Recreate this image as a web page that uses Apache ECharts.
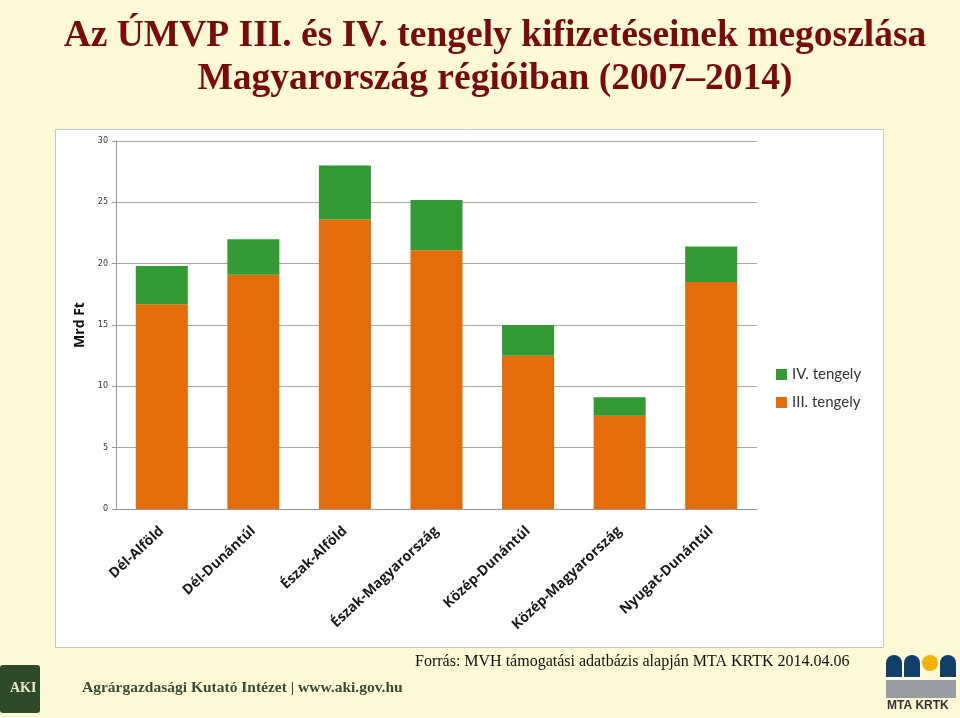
<!DOCTYPE html>
<html>
<head>
<meta charset="utf-8">
<title>ÚMVP III. és IV. tengely</title>
<script src="https://cdn.jsdelivr.net/npm/echarts@6/dist/echarts.min.js"></script>
<style>
  html, body { margin: 0; padding: 0; background: #fefad8; }
  #chart { width: 960px; height: 718px; }
</style>
</head>
<body>
<div id="chart"></div>
<script>
// regions and values (Mrd Ft)
var regions = ['Dél-Alföld', 'Dél-Dunántúl', 'Észak-Alföld', 'Észak-Magyarország',
               'Közép-Dunántúl', 'Közép-Magyarország', 'Nyugat-Dunántúl'];
var tengely3 = [16.7, 19.1, 23.6, 21.1, 12.5, 7.6, 18.5];
var tengely4 = [3.1, 2.9, 4.4, 4.1, 2.5, 1.5, 2.9];
var yTicks = [0, 5, 10, 15, 20, 25, 30];

var myChart = echarts.init(document.getElementById('chart'));

var option = {
    backgroundColor: '#fefad8',
    animation: false,
    title: {
        text: 'Az ÚMVP III. és IV. tengely kifizetéseinek megoszlása\nMagyarország régióiban (2007\u20132014)',
        left: 490,
        top: 10,
        textAlign: 'center',
        textStyle: {
            fontFamily: 'Liberation Serif',
            fontWeight: 'bold',
            fontSize: 37.5,
            lineHeight: 43,
            color: '#7b0a0a'
        }
    },
    graphic: [
        { // white chart panel
            type: 'rect', z: -10, silent: true,
            shape: { x: 55.5, y: 129.5, width: 828, height: 518 },
            style: { fill: '#ffffff', stroke: '#c6c6c6', lineWidth: 1 }
        },
        {
            type: 'text', left: 415, top: 654,
            style: { text: 'Forrás: MVH támogatási adatbázis alapján MTA KRTK 2014.04.06',
                     font: '16px "Liberation Serif"', fill: '#111' }
        },
        { // AKI logo
            type: 'rect', shape: { x: 0, y: 665, width: 40, height: 48, r: 3 },
            style: { fill: '#2f4a2a' }
        },
        {
            type: 'text', left: 10, top: 681,
            style: { text: 'AKI', font: 'bold 14px "Liberation Serif"', fill: '#e8e8d0' }
        },
        {
            type: 'text', left: 82, top: 680,
            style: { text: 'Agrárgazdasági Kutató Intézet | www.aki.gov.hu',
                     font: 'bold 15.5px "Liberation Serif"', fill: '#3b4a33' }
        },
        // MTA KRTK logo
        { type: 'rect', shape: { x: 886, y: 655, width: 16, height: 22, r: [8, 8, 0, 0] }, style: { fill: '#123e6a' } },
        { type: 'rect', shape: { x: 904, y: 655, width: 16, height: 22, r: [8, 8, 0, 0] }, style: { fill: '#123e6a' } },
        { type: 'circle', shape: { cx: 930, cy: 663, r: 8 }, style: { fill: '#f2b10c' } },
        { type: 'rect', shape: { x: 940, y: 655, width: 16, height: 22, r: [8, 8, 0, 0] }, style: { fill: '#123e6a' } },
        { type: 'rect', shape: { x: 886, y: 680, width: 70, height: 18 }, style: { fill: '#9a9ca3' } },
        {
            type: 'text', left: 887, top: 700,
            style: { text: 'MTA KRTK', font: 'bold 12px "Liberation Sans"', fill: '#333' }
        }
    ],
    legend: {
        data: ['IV. tengely', 'III. tengely'],
        orient: 'vertical',
        left: 776,
        top: 367,
        padding: 0,
        itemWidth: 11,
        itemHeight: 11,
        itemGap: 13,
        icon: 'rect',
        textStyle: { fontFamily: 'Lato', fontSize: 15, color: '#333' }
    },
    grid: {
        left: 116,
        right: 203,
        top: 141,
        bottom: 209
    },
    xAxis: {
        type: 'category',
        data: regions,
        axisTick: { show: false },
        axisLine: { lineStyle: { color: '#999' } },
        axisLabel: {
            interval: 0,
            rotate: 43,
            margin: 20,
            fontFamily: 'Open Sans',
            fontWeight: 'bold',
            fontSize: 14,
            color: '#1a1a1a'
        }
    },
    yAxis: {
        type: 'value',
        min: yTicks[0],
        max: yTicks[yTicks.length - 1],
        interval: 5,
        name: 'Mrd Ft',
        nameLocation: 'middle',
        nameGap: 28,
        nameRotate: 90,
        nameTextStyle: { fontFamily: 'Open Sans', fontWeight: 'bold', fontSize: 14, color: '#111' },
        axisLine: { show: true, lineStyle: { color: '#999' } },
        axisTick: { show: true, length: 4, lineStyle: { color: '#999' } },
        splitLine: { lineStyle: { color: '#a8a8a8' } },
        axisLabel: { fontFamily: 'DejaVu Sans', fontSize: 8, color: '#333', margin: 8 }
    },
    series: [
        {
            name: 'III. tengely',
            type: 'bar',
            stack: 'total',
            barWidth: 52,
            data: tengely3,
            itemStyle: { color: '#e46c0a' }
        },
        {
            name: 'IV. tengely',
            type: 'bar',
            stack: 'total',
            barWidth: 52,
            data: tengely4,
            itemStyle: { color: '#339933' }
        }
    ]
};

myChart.setOption(option);
</script>
</body>
</html>
